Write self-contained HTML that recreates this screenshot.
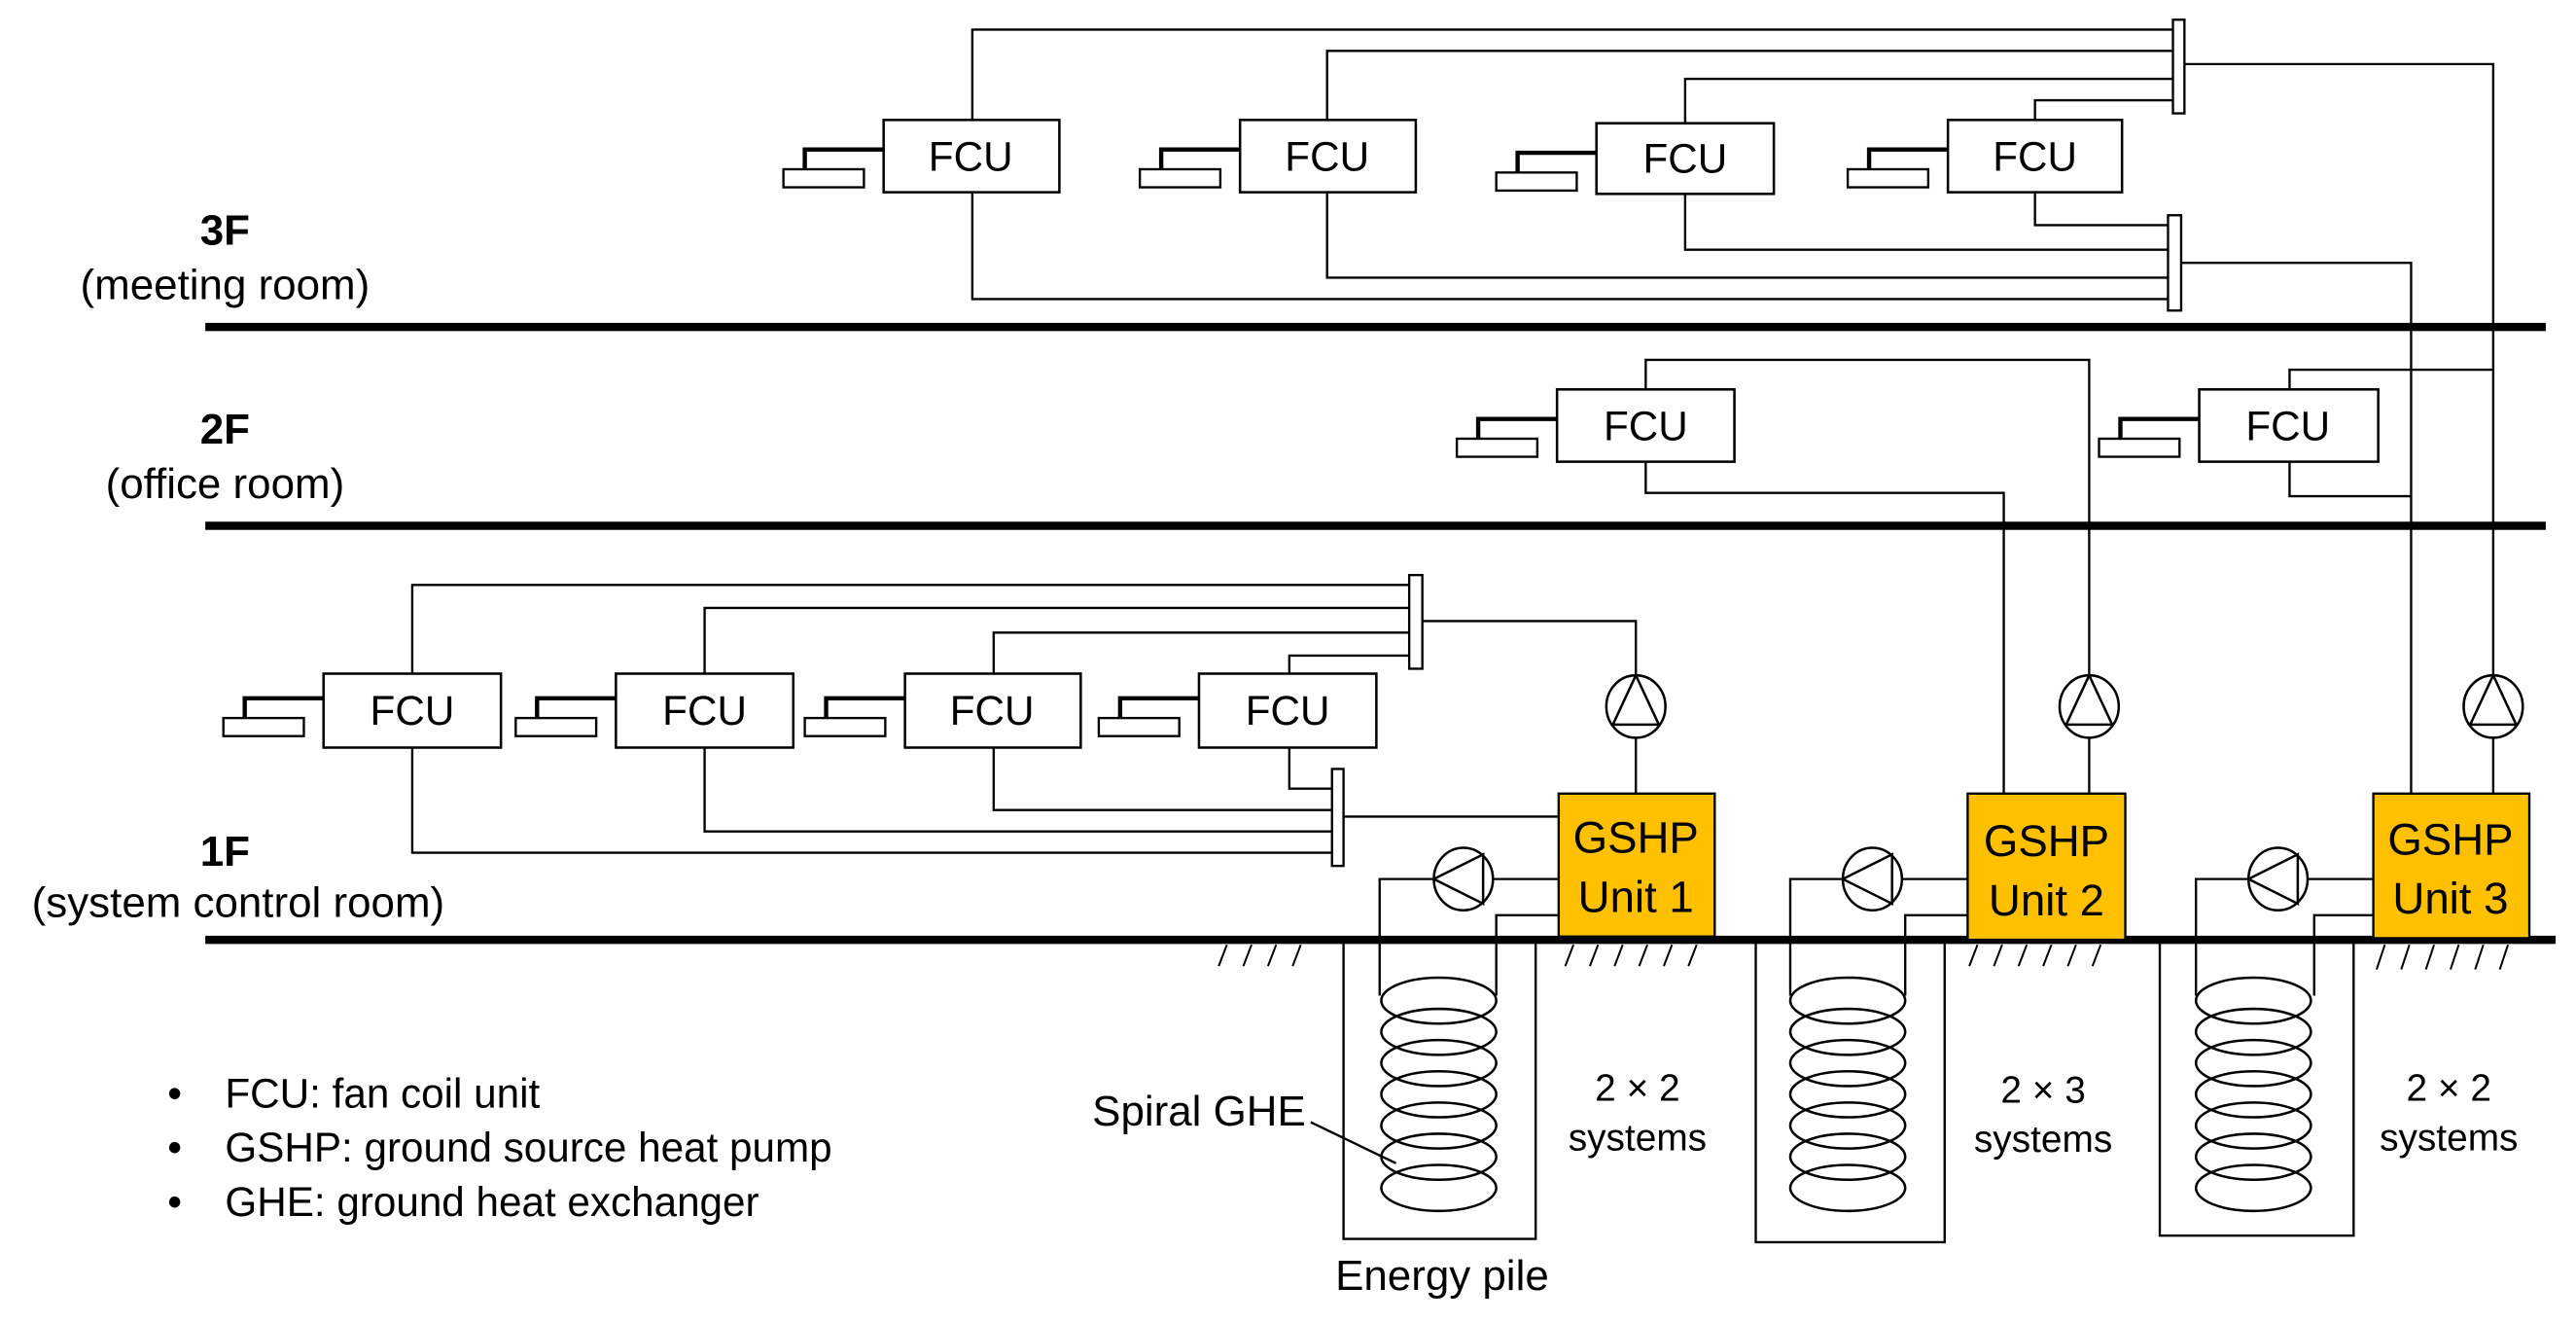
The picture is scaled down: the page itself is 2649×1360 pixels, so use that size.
<!DOCTYPE html>
<html><head><meta charset="utf-8"><style>
html,body{margin:0;padding:0;background:#fff;}
svg{display:block;}
text{font-family:"Liberation Sans",Arial,sans-serif;fill:#000;}
</style></head><body>
<svg width="2649" height="1360" viewBox="0 0 1568.4 805.2" preserveAspectRatio="none" xmlns="http://www.w3.org/2000/svg">
<defs>
<g id="th"><rect x="0" y="26" width="49" height="11" fill="#fff" stroke="#000" stroke-width="1.4"/><path d="M13 26 V14 H61" fill="none" stroke="#000" stroke-width="2.6"/></g>
<g id="pu"><ellipse cx="0" cy="0" rx="18" ry="19" fill="#fff" stroke="#000" stroke-width="1.5"/><path d="M0 -19 L-14 11 H14 Z" fill="none" stroke="#000" stroke-width="1.5"/></g>
<g id="pl"><ellipse cx="0" cy="0" rx="18" ry="19" fill="#fff" stroke="#000" stroke-width="1.5"/><path d="M-18 0 L12 -15 V15 Z" fill="none" stroke="#000" stroke-width="1.5"/></g>
<g id="coil" fill="none" stroke="#000" stroke-width="1.5">
<ellipse cx="0" cy="609" rx="35" ry="14"/><ellipse cx="0" cy="628" rx="35" ry="14"/><ellipse cx="0" cy="647" rx="35" ry="14"/><ellipse cx="0" cy="666" rx="35" ry="14"/><ellipse cx="0" cy="685" rx="35" ry="14"/><ellipse cx="0" cy="704" rx="35" ry="14"/><ellipse cx="0" cy="723" rx="35" ry="14"/>
</g>
</defs>
<g fill="none" stroke="#000" stroke-width="1.4">
<path d="M592 73 V18 H1323"/><path d="M808 73 V31 H1323"/><path d="M1026 75 V48 H1323"/><path d="M1239 73 V61 H1323"/>
<path d="M1239 117 V137 H1320"/><path d="M1026 118 V152 H1320"/><path d="M808 117 V169 H1320"/><path d="M592 117 V182 H1320"/>
<path d="M1330 39 H1518 V411"/><path d="M1328 160 H1468 V483"/>
<path d="M1002 237 V219 H1272 V411"/><path d="M1002 281 V300 H1220 V483"/>
<path d="M1394 237 V225 H1518"/><path d="M1394 281 V302 H1468"/>
<path d="M251 410 V356 H858"/><path d="M429 410 V370 H858"/><path d="M605 410 V385 H858"/><path d="M785 410 V399 H858"/>
<path d="M785 455 V480 H811"/><path d="M605 455 V493 H811"/><path d="M429 455 V506 H811"/><path d="M251 455 V519 H811"/>
<path d="M866 378 H996 V411"/><path d="M818 497 H950"/>
<path d="M996 449 V483"/><path d="M1272 449 V483"/><path d="M1518 449 V483"/>
<path d="M950 535 H909"/><path d="M873 535 H840 V606"/><path d="M950 557 H911 V606"/>
<path d="M1198 535 H1158"/><path d="M1122 535 H1090 V606"/><path d="M1198 557 H1160 V606"/>
<path d="M1445 535 H1405"/><path d="M1369 535 H1337 V606"/><path d="M1445 557 H1409 V606"/>
<path d="M818 572 V754 H935 V572"/><path d="M1069 572 V756 H1184 V572"/><path d="M1315 572 V752 H1433 V572"/>
<path d="M798 683 L850 708"/>
</g>
<g fill="#fff" stroke="#000" stroke-width="1.4">
<rect x="1323" y="12" width="7" height="57"/><rect x="1320" y="131" width="8" height="58"/>
<rect x="858" y="350" width="8" height="57"/><rect x="811" y="468" width="7" height="59"/>
</g>
<use href="#coil" x="876"/><use href="#coil" x="1125"/><use href="#coil" x="1372"/>
<g stroke="#000" stroke-width="1.2">
<path d="M742 588 L747 575 M757 588 L762 575 M772 588 L777 575 M787 588 L792 575"/>
<path d="M953 588 L958 575 M968 588 L973 575 M983 588 L988 575 M998 588 L1003 575 M1013 588 L1018 575 M1028 588 L1033 575"/>
<path d="M1199 588 L1204 575 M1214 588 L1219 575 M1229 588 L1234 575 M1244 588 L1249 575 M1259 588 L1264 575 M1274 588 L1279 575"/>
<path d="M1447 590 L1452 575 M1462 590 L1467 575 M1477 590 L1482 575 M1492 590 L1497 575 M1507 590 L1512 575 M1522 590 L1527 575"/>
</g>
<g fill="#000"><rect x="125" y="196.5" width="1425" height="5"/><rect x="125" y="317.5" width="1425" height="5"/><rect x="125" y="569.5" width="1431" height="5"/></g>
<g fill="#fff" stroke="#000" stroke-width="1.5">
<rect x="538" y="73" width="107" height="44"/><rect x="755" y="73" width="107" height="44"/><rect x="972" y="75" width="108" height="43"/><rect x="1186" y="73" width="106" height="44"/>
<rect x="948" y="237" width="108" height="44"/><rect x="1339" y="237" width="109" height="44"/>
<rect x="197" y="410" width="108" height="45"/><rect x="375" y="410" width="108" height="45"/><rect x="551" y="410" width="107" height="45"/><rect x="730" y="410" width="108" height="45"/>
</g>
<use href="#th" x="477" y="77"/><use href="#th" x="694" y="77"/><use href="#th" x="911" y="79"/><use href="#th" x="1125" y="77"/>
<use href="#th" x="887" y="241"/><use href="#th" x="1278" y="241"/>
<use href="#th" x="136" y="411"/><use href="#th" x="314" y="411"/><use href="#th" x="490" y="411"/><use href="#th" x="669" y="411"/>
<g font-size="25" text-anchor="middle">
<text x="591" y="104">FCU</text><text x="808" y="104">FCU</text><text x="1026" y="105">FCU</text><text x="1239" y="104">FCU</text>
<text x="1002" y="268">FCU</text><text x="1393" y="268">FCU</text>
<text x="251" y="441">FCU</text><text x="429" y="441">FCU</text><text x="604" y="441">FCU</text><text x="784" y="441">FCU</text>
</g>
<g fill="#FFC000" stroke="#000" stroke-width="1.4">
<rect x="949" y="483" width="95" height="87"/><rect x="1198" y="483" width="96" height="89"/><rect x="1445" y="483" width="95" height="88"/>
</g>
<g font-size="27" text-anchor="middle">
<text x="996" y="519">GSHP</text><text x="996" y="555">Unit 1</text>
<text x="1246" y="521">GSHP</text><text x="1246" y="557">Unit 2</text>
<text x="1492" y="520">GSHP</text><text x="1492" y="556">Unit 3</text>
</g>
<use href="#pu" x="996" y="430"/><use href="#pu" x="1272" y="430"/><use href="#pu" x="1518" y="430"/>
<use href="#pl" x="891" y="535"/><use href="#pl" x="1140" y="535"/><use href="#pl" x="1387" y="535"/>
<g font-size="26" text-anchor="middle">
<text x="137" y="149" font-weight="bold">3F</text><text x="137" y="182">(meeting room)</text>
<text x="137" y="270" font-weight="bold">2F</text><text x="137" y="303">(office room)</text>
<text x="137" y="527" font-weight="bold">1F</text><text x="145" y="558">(system control room)</text>
</g>
<g font-size="23" text-anchor="middle">
<text x="997" y="670">2 × 2</text><text x="997" y="700">systems</text>
<text x="1244" y="671">2 × 3</text><text x="1244" y="701">systems</text>
<text x="1491" y="670">2 × 2</text><text x="1491" y="700">systems</text>
<text x="878" y="785" font-size="26">Energy pile</text>
</g>
<text x="665" y="685" font-size="26">Spiral GHE</text>
<g font-size="25">
<text x="102" y="674">•</text><text x="137" y="674">FCU: fan coil unit</text>
<text x="102" y="707">•</text><text x="137" y="707">GSHP: ground source heat pump</text>
<text x="102" y="740">•</text><text x="137" y="740">GHE: ground heat exchanger</text>
</g>
</svg>
</body></html>
